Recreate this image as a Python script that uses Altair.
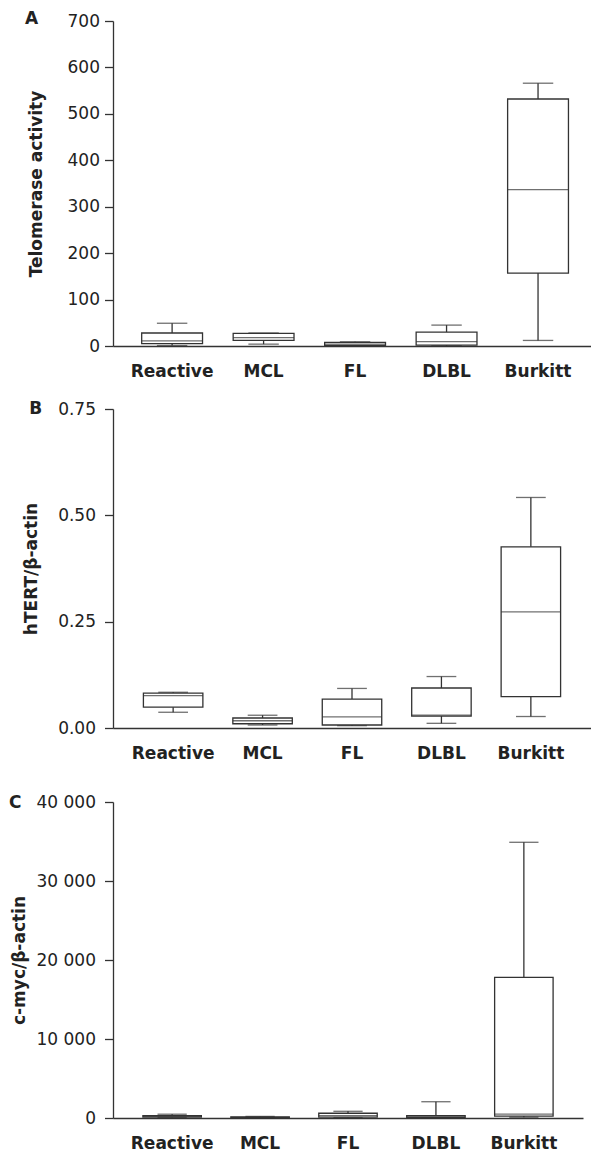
import altair as alt
import pandas as pd

cats = ["Reactive", "MCL", "FL", "DLBL", "Burkitt"]

# Panel A: telomerase activity (min, Q1, median, Q3, max)
tel_min = [1, 4, 0.3, 0.5, 12]
tel_q1 = [5, 12, 1.5, 2, 157]
tel_med = [11, 18, 4, 9.5, 337]
tel_q3 = [28, 27, 8, 30, 532]
tel_max = [49, 28, 9, 45, 566]

# Panel B: hTERT / beta-actin
ht_min = [0.037, 0.007, 0.0055, 0.011, 0.027]
ht_q1 = [0.049, 0.010, 0.007, 0.028, 0.074]
ht_med = [0.076, 0.017, 0.026, 0.0305, 0.273]
ht_q3 = [0.082, 0.0235, 0.068, 0.094, 0.426]
ht_max = [0.084, 0.030, 0.093, 0.121, 0.542]

# Panel C: c-myc / beta-actin
cm_min = [50, 20, 50, 30, 100]
cm_q1 = [100, 40, 100, 80, 250]
cm_med = [200, 80, 300, 150, 500]
cm_q3 = [300, 150, 600, 300, 17800]
cm_max = [480, 200, 850, 2060, 34900]

tel_ticks = [0, 100, 200, 300, 400, 500, 600, 700]
ht_ticks = [0, 0.25, 0.5, 0.75]
cm_ticks = [0, 10000, 20000, 30000, 40000]

FONT = "DejaVu Sans"
LINE = "#333333"
TXT = "#222222"
SW = 1.3
PI = 0.335


def panel(letter, mins, q1s, meds, q3s, maxs, ydomain, yvalues, ytitle,
          width, height, po, align, label_pad, title_pad, letter_x, letter_y,
          fmt=None, label_expr=None, bottom_gap=0):
    df = pd.DataFrame({"cat": cats, "lo": mins, "q1": q1s, "med": meds,
                       "q3": q3s, "hi": maxs})
    step = width / (len(cats) - PI + 2 * po)
    bw = step * (1 - PI)
    xscale = alt.Scale(domain=cats, paddingInner=PI, paddingOuter=po,
                       align=align)
    yscale = alt.Scale(domain=ydomain, nice=False, zero=True)
    xkw = dict(labelAngle=0, ticks=False, labelPadding=17,
               labelFont=FONT, labelFontSize=17, labelFontWeight="bold",
               labelColor=TXT, domainColor=LINE, domainWidth=SW, grid=False)
    if bottom_gap:
        xkw.update(title="\u00a0", titleFontSize=bottom_gap, titlePadding=0)
    else:
        xkw["title"] = ""
    xaxis = alt.Axis(**xkw)
    ykw = dict(title=ytitle, values=yvalues, grid=False, labelFont=FONT,
               labelFontSize=17, labelColor=TXT, labelPadding=label_pad,
               tickSize=8.5, tickColor=LINE, tickWidth=SW, domainColor=LINE,
               domainWidth=SW, titleFont=FONT, titleFontSize=17,
               titleFontWeight="bold", titleColor=TXT, titlePadding=title_pad)
    if fmt is not None:
        ykw["format"] = fmt
    if label_expr is not None:
        ykw["labelExpr"] = label_expr
    yaxis = alt.Axis(**ykw)
    x = alt.X("cat:N", sort=cats, scale=xscale, axis=xaxis)
    base = alt.Chart(df)
    whisk = base.mark_rule(color=LINE, strokeWidth=SW).encode(
        x=x, y=alt.Y("lo:Q", scale=yscale, axis=yaxis), y2="hi:Q")
    box = base.mark_bar(fill="white", stroke=LINE, strokeWidth=SW).encode(
        x=x, y=alt.Y("q1:Q", scale=yscale, axis=yaxis), y2="q3:Q")
    med = base.mark_tick(color=LINE, thickness=SW, size=bw).encode(
        x=x, y=alt.Y("med:Q", scale=yscale, axis=yaxis))
    capl = base.mark_tick(color=LINE, thickness=SW, size=bw / 2).encode(
        x=x, y=alt.Y("lo:Q", scale=yscale, axis=yaxis))
    caph = base.mark_tick(color=LINE, thickness=SW, size=bw / 2).encode(
        x=x, y=alt.Y("hi:Q", scale=yscale, axis=yaxis))
    lab = alt.Chart(pd.DataFrame({"t": [letter]})).mark_text(
        font=FONT, fontSize=17, fontWeight="bold", color=TXT,
        align="center", baseline="middle").encode(
        x=alt.value(letter_x), y=alt.value(letter_y), text="t:N")
    return alt.layer(whisk, box, med, capl, caph, lab).properties(
        width=width, height=height)


pa = panel("A", tel_min, tel_q1, tel_med, tel_q3, tel_max, [0, 700],
           tel_ticks, "Telomerase activity", 478, 325, 0.28, 0.56,
           5, 22, -81.5, -2)
pb = panel("B", ht_min, ht_q1, ht_med, ht_q3, ht_max, [0, 0.75],
           ht_ticks, "hTERT/β-actin", 478, 319, 0.34, 0.5,
           9, 17, -77.3, 0, fmt=".2f", bottom_gap=12)
pc = panel("C", cm_min, cm_q1, cm_med, cm_q3, cm_max, [0, 40000],
           cm_ticks, "c-myc/β-actin", 470, 316, 0.34, 0.5,
           9, 8, -97.7, 1,
           label_expr="replace(format(datum.value, ','), ',', ' ')")

chart = alt.vconcat(pa, pb, pc, spacing=21).properties(
    padding={"left": 1, "top": 2, "right": 0, "bottom": 0}
).configure_view(stroke=None)

chart.save("out.html", embed_options={"renderer": "svg", "actions": False})
